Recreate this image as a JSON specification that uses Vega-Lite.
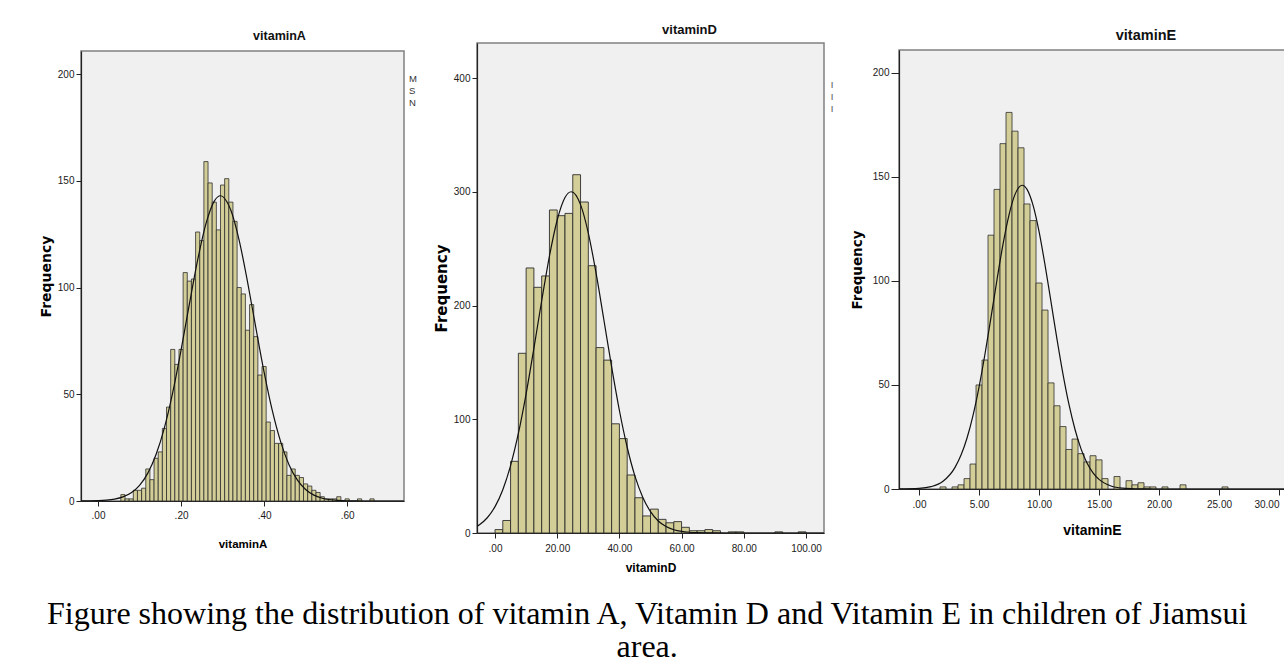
{
  "$schema": "https://vega.github.io/schema/vega-lite/v6.json",
  "background": "white",
  "padding": {"left": 38, "top": 22, "right": 1, "bottom": 0},
  "title": {
    "text": ["Figure showing the distribution of vitamin A, Vitamin D and Vitamin E in children of Jiamsui", "area."],
    "orient": "bottom", "anchor": "middle", "font": "Liberation Serif", "fontSize": 32,
    "fontWeight": "normal", "color": "#000", "lineHeight": 33, "offset": 25, "dx": -15
  },
  "spacing": 15,
  "datasets": {
    "A_bars": [
      {"x":0.055,"xe":0.065,"y":3},{"x":0.065,"xe":0.075,"y":1},{"x":0.075,"xe":0.085,"y":1},{"x":0.085,"xe":0.095,"y":5},
      {"x":0.095,"xe":0.105,"y":5},{"x":0.105,"xe":0.115,"y":6},{"x":0.115,"xe":0.125,"y":15},{"x":0.125,"xe":0.135,"y":10},
      {"x":0.135,"xe":0.145,"y":20},{"x":0.145,"xe":0.155,"y":23},{"x":0.155,"xe":0.165,"y":34},{"x":0.165,"xe":0.175,"y":44},
      {"x":0.175,"xe":0.185,"y":71},{"x":0.185,"xe":0.195,"y":64},{"x":0.195,"xe":0.205,"y":71},{"x":0.205,"xe":0.215,"y":107},
      {"x":0.215,"xe":0.225,"y":103},{"x":0.225,"xe":0.235,"y":104},{"x":0.235,"xe":0.245,"y":126},{"x":0.245,"xe":0.255,"y":122},
      {"x":0.255,"xe":0.265,"y":159},{"x":0.265,"xe":0.275,"y":149},{"x":0.275,"xe":0.285,"y":140},{"x":0.285,"xe":0.295,"y":127},
      {"x":0.295,"xe":0.305,"y":148},{"x":0.305,"xe":0.315,"y":151},{"x":0.315,"xe":0.325,"y":140},{"x":0.325,"xe":0.335,"y":131},
      {"x":0.335,"xe":0.345,"y":100},{"x":0.345,"xe":0.355,"y":97},{"x":0.355,"xe":0.365,"y":80},{"x":0.365,"xe":0.375,"y":92},
      {"x":0.375,"xe":0.385,"y":77},{"x":0.385,"xe":0.395,"y":59},{"x":0.395,"xe":0.405,"y":63},{"x":0.405,"xe":0.415,"y":37},
      {"x":0.415,"xe":0.425,"y":33},{"x":0.425,"xe":0.435,"y":27},{"x":0.435,"xe":0.445,"y":27},{"x":0.445,"xe":0.455,"y":23},
      {"x":0.455,"xe":0.465,"y":12},{"x":0.465,"xe":0.475,"y":15},{"x":0.475,"xe":0.485,"y":12},{"x":0.485,"xe":0.495,"y":11},
      {"x":0.495,"xe":0.505,"y":8},{"x":0.505,"xe":0.515,"y":7},{"x":0.515,"xe":0.525,"y":5},{"x":0.525,"xe":0.535,"y":4},
      {"x":0.535,"xe":0.545,"y":2},{"x":0.545,"xe":0.555,"y":1},{"x":0.555,"xe":0.565,"y":1},{"x":0.565,"xe":0.575,"y":1},
      {"x":0.575,"xe":0.585,"y":2},{"x":0.595,"xe":0.605,"y":1},{"x":0.625,"xe":0.635,"y":1},{"x":0.655,"xe":0.665,"y":1}
    ],
    "A_curve": [
      {"x":-0.041,"y":0.02},{"x":-0.02,"y":0.06},{"x":0,"y":0.16},{"x":0.02,"y":0.39},{"x":0.04,"y":0.89},{"x":0.06,"y":1.91},
      {"x":0.08,"y":3.87},{"x":0.10,"y":7.33},{"x":0.12,"y":13.07},{"x":0.14,"y":21.9},{"x":0.16,"y":34.4},{"x":0.18,"y":50.9},
      {"x":0.20,"y":70.7},{"x":0.22,"y":92.2},{"x":0.24,"y":112.9},{"x":0.26,"y":129.9},{"x":0.28,"y":140.5},{"x":0.295,"y":143},
      {"x":0.31,"y":140.3},{"x":0.32,"y":136.2},{"x":0.34,"y":122.1},{"x":0.36,"y":102.8},{"x":0.38,"y":81.3},{"x":0.40,"y":60.4},
      {"x":0.42,"y":42.2},{"x":0.44,"y":27.7},{"x":0.46,"y":17.0},{"x":0.48,"y":9.87},{"x":0.50,"y":5.36},{"x":0.52,"y":2.74},
      {"x":0.54,"y":1.31},{"x":0.56,"y":0.59},{"x":0.58,"y":0.25},{"x":0.60,"y":0.10},{"x":0.62,"y":0.04},{"x":0.64,"y":0.01},
      {"x":0.68,"y":0},{"x":0.737,"y":0}
    ],
    "A_note": [
      {"x":0.749,"y":197.7,"t":"M"},{"x":0.749,"y":192.0,"t":"S"},{"x":0.749,"y":186.4,"t":"N"}
    ],
    "D_bars": [
      {"x":0,"xe":2.5,"y":3},{"x":2.5,"xe":5,"y":11},{"x":5,"xe":7.5,"y":63},{"x":7.5,"xe":10,"y":158},
      {"x":10,"xe":12.5,"y":233},{"x":12.5,"xe":15,"y":216},{"x":15,"xe":17.5,"y":226},{"x":17.5,"xe":20,"y":284},
      {"x":20,"xe":22.5,"y":279},{"x":22.5,"xe":25,"y":281},{"x":25,"xe":27.5,"y":315},{"x":27.5,"xe":30,"y":291},
      {"x":30,"xe":32.5,"y":235},{"x":32.5,"xe":35,"y":163},{"x":35,"xe":37.5,"y":152},{"x":37.5,"xe":40,"y":96},
      {"x":40,"xe":42.5,"y":83},{"x":42.5,"xe":45,"y":51},{"x":45,"xe":47.5,"y":31},{"x":47.5,"xe":50,"y":15},
      {"x":50,"xe":52.5,"y":21},{"x":52.5,"xe":55,"y":12},{"x":55,"xe":57.5,"y":9},{"x":57.5,"xe":60,"y":10},
      {"x":60,"xe":62.5,"y":5},{"x":62.5,"xe":65,"y":2},{"x":65,"xe":67.5,"y":2},{"x":67.5,"xe":70,"y":3},
      {"x":70,"xe":72.5,"y":2},{"x":75,"xe":77.5,"y":1},{"x":77.5,"xe":80,"y":1},{"x":90,"xe":92.5,"y":1},
      {"x":97.5,"xe":100,"y":1}
    ],
    "D_curve": [
      {"x":-5.8,"y":6.0},{"x":-5,"y":7.34},{"x":-2.5,"y":13.4},{"x":0,"y":23.2},{"x":2.5,"y":38.1},{"x":5,"y":59.3},
      {"x":7.5,"y":87.5},{"x":10,"y":122.4},{"x":12.5,"y":162.4},{"x":15,"y":204.2},{"x":17.5,"y":243.5},{"x":20,"y":275.2},
      {"x":22.5,"y":294.9},{"x":24.5,"y":300},{"x":27.5,"y":288.7},{"x":30,"y":263.7},{"x":32.5,"y":228.4},{"x":35,"y":187.5},
      {"x":37.5,"y":146.0},{"x":40,"y":107.7},{"x":42.5,"y":75.4},{"x":45,"y":50.0},{"x":47.5,"y":31.5},{"x":50,"y":18.8},
      {"x":52.5,"y":10.6},{"x":55,"y":5.7},{"x":57.5,"y":2.9},{"x":60,"y":1.4},{"x":62.5,"y":0.64},{"x":65,"y":0.28},
      {"x":70,"y":0.04},{"x":75,"y":0},{"x":105.8,"y":0}
    ],
    "D_note": [
      {"x":108.0,"y":393.8,"t":"I"},{"x":108.0,"y":383.3,"t":"I"},{"x":108.0,"y":372.7,"t":"I"}
    ],
    "E_bars": [
      {"x":1.75,"xe":2.25,"y":1},{"x":2.75,"xe":3.25,"y":1},{"x":3.25,"xe":3.75,"y":2},{"x":3.75,"xe":4.25,"y":5},
      {"x":4.25,"xe":4.75,"y":12},{"x":4.75,"xe":5.25,"y":50},{"x":5.25,"xe":5.75,"y":62},{"x":5.75,"xe":6.25,"y":122},
      {"x":6.25,"xe":6.75,"y":144},{"x":6.75,"xe":7.25,"y":166},{"x":7.25,"xe":7.75,"y":181},{"x":7.75,"xe":8.25,"y":172},
      {"x":8.25,"xe":8.75,"y":164},{"x":8.75,"xe":9.25,"y":137},{"x":9.25,"xe":9.75,"y":129},{"x":9.75,"xe":10.25,"y":99},
      {"x":10.25,"xe":10.75,"y":86},{"x":10.75,"xe":11.25,"y":51},{"x":11.25,"xe":11.75,"y":40},{"x":11.75,"xe":12.25,"y":30},
      {"x":12.25,"xe":12.75,"y":19},{"x":12.75,"xe":13.25,"y":24},{"x":13.25,"xe":13.75,"y":17},{"x":13.75,"xe":14.25,"y":13},
      {"x":14.25,"xe":14.75,"y":16},{"x":14.75,"xe":15.25,"y":14},{"x":15.25,"xe":15.75,"y":5},{"x":16.25,"xe":16.75,"y":6},
      {"x":17.25,"xe":17.75,"y":4},{"x":17.75,"xe":18.25,"y":2},{"x":18.25,"xe":18.75,"y":3},{"x":18.75,"xe":19.25,"y":1},
      {"x":19.25,"xe":19.75,"y":1},{"x":20.25,"xe":20.75,"y":1},{"x":21.75,"xe":22.25,"y":2},{"x":25.25,"xe":25.75,"y":1}
    ],
    "E_curve": [
      {"x":-1.67,"y":0.02},{"x":0,"y":0.29},{"x":1,"y":1.12},{"x":2,"y":3.72},{"x":3,"y":10.4},{"x":3.5,"y":16.3},
      {"x":4,"y":24.5},{"x":4.5,"y":35.4},{"x":5,"y":49.0},{"x":5.5,"y":65.0},{"x":6,"y":82.6},{"x":6.5,"y":100.7},
      {"x":7,"y":117.7},{"x":7.5,"y":131.8},{"x":8,"y":141.6},{"x":8.6,"y":146},{"x":9,"y":144.0},{"x":9.5,"y":136.4},
      {"x":10,"y":123.8},{"x":10.5,"y":107.7},{"x":11,"y":89.9},{"x":11.5,"y":71.9},{"x":12,"y":55.1},{"x":12.5,"y":40.5},
      {"x":13,"y":28.6},{"x":13.5,"y":19.3},{"x":14,"y":12.5},{"x":14.5,"y":7.77},{"x":15,"y":4.63},{"x":16,"y":1.45},
      {"x":17,"y":0.38},{"x":18,"y":0.09},{"x":19,"y":0.02},{"x":20,"y":0},{"x":30.5,"y":0}
    ]
  },
  "hconcat": [
    {
      "spacing": 0,
      "vconcat": [
        {"width": 1, "height": 6, "view": {"fill": "white", "stroke": null}, "data": {"values": []}, "mark": "point"},
        {
          "width": 323, "height": 450,
          "title": {"text": "vitaminA", "font": "Liberation Sans", "fontSize": 12.5, "fontWeight": "bold", "color": "#111", "offset": 9, "dx": 37, "anchor": "middle", "frame": "group"},
          "encoding": {
            "x": {"field": "x", "type": "quantitative", "scale": {"domain": [-0.041, 0.737], "nice": false, "zero": false},
              "axis": {"title": "vitaminA", "values": [0, 0.2, 0.4, 0.6], "labelExpr": "slice(format(datum.value, '.2f'), 1)", "tickSize": 5, "labelPadding": 4, "titlePadding": 18, "titleFont": "Liberation Sans", "titleFontSize": 11.5, "titleFontWeight": "bold"}},
            "y": {"field": "y", "type": "quantitative", "scale": {"domain": [0, 210.8], "nice": false},
              "axis": {"title": "Frequency", "values": [0, 50, 100, 150, 200], "tickSize": 5, "labelPadding": 2, "titlePadding": 4, "titleFont": "DejaVu Sans", "titleFontSize": 14, "titleFontWeight": "bold"}}
          },
          "layer": [
            {"data": {"name": "A_bars"}, "mark": {"type": "rect", "fill": "#d3ce97", "stroke": "#2e2e2e", "strokeWidth": 0.8}, "encoding": {"x2": {"field": "xe"}, "y2": {"datum": 0}}},
            {"data": {"name": "A_curve"}, "mark": {"type": "line", "color": "#111", "strokeWidth": 1.2, "interpolate": "monotone", "clip": true}},
            {"data": {"name": "A_note"}, "mark": {"type": "text", "align": "left", "baseline": "middle", "font": "Liberation Sans", "fontSize": 9.5, "color": "#333"}, "encoding": {"text": {"field": "t"}}}
          ]
        }
      ]
    },
    {
      "spacing": 0,
      "vconcat": [
        {"width": 1, "height": 1, "view": {"fill": "white", "stroke": null}, "data": {"values": []}, "mark": "point"},
        {
          "width": 347, "height": 490,
          "title": {"text": "vitaminD", "font": "Liberation Sans", "fontSize": 13, "fontWeight": "bold", "color": "#111", "offset": 6, "dx": 39, "anchor": "middle", "frame": "group"},
          "encoding": {
            "x": {"field": "x", "type": "quantitative", "scale": {"domain": [-5.8, 105.8], "nice": false, "zero": false},
              "axis": {"title": "vitaminD", "values": [0, 20, 40, 60, 80, 100], "labelExpr": "datum.value == 0 ? '.00' : format(datum.value, '.2f')", "tickSize": 5, "labelPadding": 5, "titlePadding": 9, "titleFont": "Liberation Sans", "titleFontSize": 12, "titleFontWeight": "bold"}},
            "y": {"field": "y", "type": "quantitative", "scale": {"domain": [0, 430.8], "nice": false},
              "axis": {"title": "Frequency", "values": [0, 100, 200, 300, 400], "tickSize": 5, "labelPadding": 2, "titlePadding": 4, "titleFont": "DejaVu Sans", "titleFontSize": 15, "titleFontWeight": "bold"}}
          },
          "layer": [
            {"data": {"name": "D_bars"}, "mark": {"type": "rect", "fill": "#d3ce97", "stroke": "#2e2e2e", "strokeWidth": 0.9}, "encoding": {"x2": {"field": "xe"}, "y2": {"datum": 0}}},
            {"data": {"name": "D_curve"}, "mark": {"type": "line", "color": "#111", "strokeWidth": 1.2, "interpolate": "monotone", "clip": true}},
            {"data": {"name": "D_note"}, "mark": {"type": "text", "align": "left", "baseline": "middle", "font": "Liberation Sans", "fontSize": 9.5, "color": "#555"}, "encoding": {"text": {"field": "t"}}}
          ]
        }
      ]
    },
    {
      "spacing": 0,
      "vconcat": [
        {"width": 1, "height": 4, "view": {"fill": "white", "stroke": null}, "data": {"values": []}, "mark": "point"},
        {
          "width": 386, "height": 439,
          "title": {"text": "vitaminE", "font": "Liberation Sans", "fontSize": 14.5, "fontWeight": "bold", "color": "#111", "offset": 7, "dx": 54, "anchor": "middle", "frame": "group"},
          "encoding": {
            "x": {"field": "x", "type": "quantitative", "scale": {"domain": [-1.67, 30.5], "nice": false, "zero": false},
              "axis": {"title": "vitaminE", "values": [0, 5, 10, 15, 20, 25, 30], "labelExpr": "datum.value == 0 ? '.00' : format(datum.value, '.2f')", "labelFlush": 8, "tickSize": 6, "labelPadding": 4, "titlePadding": 14, "titleFont": "Liberation Sans", "titleFontSize": 14, "titleFontWeight": "bold"}},
            "y": {"field": "y", "type": "quantitative", "scale": {"domain": [0, 211], "nice": false},
              "axis": {"title": "Frequency", "values": [0, 50, 100, 150, 200], "tickSize": 8, "labelPadding": 2, "titlePadding": 7.5, "titleFont": "DejaVu Sans", "titleFontSize": 13.5, "titleFontWeight": "bold"}}
          },
          "layer": [
            {"data": {"name": "E_bars"}, "mark": {"type": "rect", "fill": "#d3ce97", "stroke": "#2e2e2e", "strokeWidth": 0.8}, "encoding": {"x2": {"field": "xe"}, "y2": {"datum": 0}}},
            {"data": {"name": "E_curve"}, "mark": {"type": "line", "color": "#111", "strokeWidth": 1.2, "interpolate": "monotone", "clip": true}}
          ]
        }
      ]
    }
  ],
  "config": {
    "view": {"fill": "#f0f0f0", "stroke": "#808080", "strokeWidth": 1.5},
    "axis": {"grid": false, "labelFont": "Liberation Sans", "labelFontSize": 10, "labelColor": "#1a1a1a", "tickColor": "#222", "domainColor": "#222", "domainWidth": 1.2, "tickWidth": 1, "titleColor": "#000"}
  }
}
